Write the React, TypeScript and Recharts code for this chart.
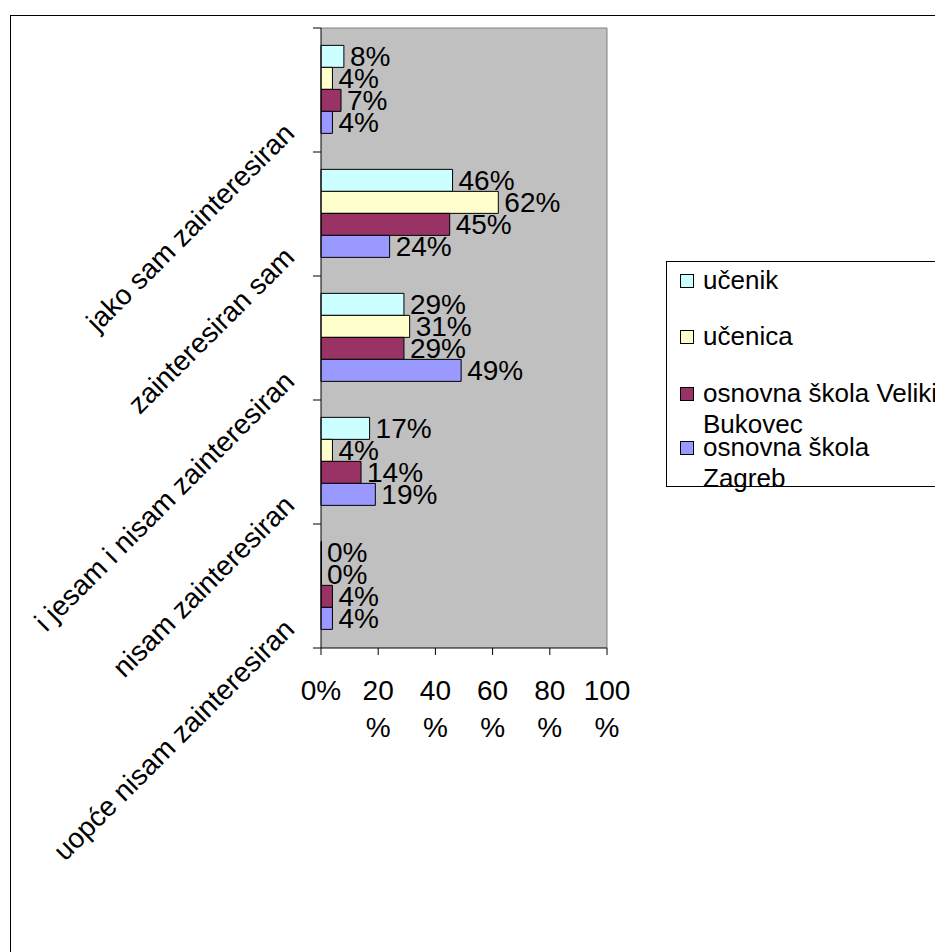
/* ── Interest survey: horizontal grouped bars, Excel look ── */

import { BarChart, Bar, XAxis, YAxis, CartesianGrid, ReferenceLine, LabelList } from "recharts";

const categories = [
  "jako sam zainteresiran",
  "zainteresiran sam",
  "i jesam i nisam zainteresiran",
  "nisam zainteresiran",
  "uopće nisam zainteresiran",
];

const ucenik = [8, 46, 29, 17, 0];
const ucenica = [4, 62, 31, 4, 0];
const velikiBukovec = [7, 45, 29, 14, 4];
const zagreb = [4, 24, 49, 19, 4];

const xTicks = [0, 20, 40, 60, 80, 100];
const xTickLabels = ["0%", "20 %", "40 %", "60 %", "80 %", "100 %"];

const series = [
  { key: "ucenik", name: "učenik", color: "#CCFFFF", values: ucenik },
  { key: "ucenica", name: "učenica", color: "#FFFFCC", values: ucenica },
  { key: "veliki", name: "osnovna škola Veliki Bukovec", color: "#993366", values: velikiBukovec },
  { key: "zagreb", name: "osnovna škola Zagreb", color: "#9999FF", values: zagreb },
];

const FONT = "'Liberation Sans', Arial, sans-serif";
const W = 935;
const H = 952;
const PLOT_LEFT = 321;
const PLOT_RIGHT = 607;
const PLOT_TOP = 28;
const PLOT_BOTTOM = 648;
const Y_AXIS_W = 60;
const X_AXIS_H = 100;

const data = categories.map((cat, i) => {
  const row: Record<string, any> = { cat };
  for (const s of series) row[s.key] = s.values[i];
  return row;
});

function CatTick({ y, payload, index }: any) {
  const half = (PLOT_BOTTOM - PLOT_TOP) / categories.length / 2;
  return (
    <g>
      <line x1={PLOT_LEFT - 8} x2={PLOT_LEFT} y1={y - half} y2={y - half} stroke="#000" />
      {index === categories.length - 1 && (
        <line x1={PLOT_LEFT - 8} x2={PLOT_LEFT} y1={y + half} y2={y + half} stroke="#000" />
      )}
      <text
        transform={`translate(${PLOT_LEFT - 25},${y + 45}) rotate(-45)`}
        textAnchor="end"
        fontSize={28}
        fontFamily={FONT}
        fill="#000"
      >
        {payload.value}
      </text>
    </g>
  );
}

function PctTick({ x, index }: any) {
  const lines = xTickLabels[index].split(" ");
  return (
    <text textAnchor="middle" fontSize={28} fontFamily={FONT} fill="#000">
      {lines.map((t, i) => (
        <tspan key={i} x={x} y={PLOT_BOTTOM + 52 + i * 37}>
          {t}
        </tspan>
      ))}
    </text>
  );
}

// value label to the right of each bar
function ValueLabel({ x, y, width, height, value }: any) {
  const w = Number(width) < 1 ? 0 : Number(width);
  return (
    <text
      x={Number(x) + w + 6}
      y={Number(y) + Number(height) / 2}
      dominantBaseline="central"
      fontSize={28}
      fontFamily={FONT}
      fill="#000"
    >
      {`${value}%`}
    </text>
  );
}

export default function App() {
  return (
    <div style={{ position: "absolute", left: 0, top: 0, width: W, height: H, overflow: "hidden", background: "#fff" }}>
      {/* outer chart frame, cut off at right and bottom */}
      <div style={{ position: "absolute", left: 10, top: 15, width: 1000, height: 1000, border: "1px solid #000" }} />

      <div style={{ position: "absolute", left: 0, top: 0 }}>
        <BarChart
          width={W}
          height={H}
          data={data}
          layout="vertical"
          margin={{
            top: PLOT_TOP,
            left: PLOT_LEFT - Y_AXIS_W,
            right: W - PLOT_RIGHT,
            bottom: H - PLOT_BOTTOM - X_AXIS_H,
          }}
          barCategoryGap="14%"
          barGap={0}
        >
          <CartesianGrid fill="#C0C0C0" horizontal={false} vertical={false} />
          <XAxis
            type="number"
            domain={[0, 100]}
            ticks={xTicks}
            interval={0}
            height={X_AXIS_H}
            tickSize={7}
            tickLine={{ stroke: "#000" }}
            axisLine={{ stroke: "#000" }}
            tick={<PctTick />}
          />
          <YAxis
            type="category"
            dataKey="cat"
            width={Y_AXIS_W}
            interval={0}
            tickLine={false}
            axisLine={{ stroke: "#000" }}
            tick={<CatTick />}
          />
          <ReferenceLine x={100} stroke="#808080" />
          <ReferenceLine y={categories[0]} position="start" stroke="#808080" />
          {series.map((s) => (
            <Bar
              key={s.key}
              dataKey={s.key}
              name={s.name}
              fill={s.color}
              stroke="#000"
              strokeWidth={1}
              minPointSize={0.5}
              isAnimationActive={false}
            >
              <LabelList dataKey={s.key} content={<ValueLabel />} />
            </Bar>
          ))}
        </BarChart>
      </div>

      {/* Legend */}
      <div
        style={{
          position: "absolute",
          left: 666,
          top: 261,
          width: 320,
          height: 224,
          border: "1px solid #000",
          background: "#fff",
          fontFamily: FONT,
          fontSize: 26,
          color: "#000",
        }}
      >
        {series.map((s, i) => (
          <div key={s.key} style={{ position: "absolute", left: 13, top: [3, 59, 116, 170][i], display: "flex", alignItems: "flex-start" }}>
            <div style={{ width: 12, height: 12, marginTop: 9, border: "1px solid #000", background: s.color, flexShrink: 0 }} />
            <div style={{ marginLeft: 9, width: 245, lineHeight: "31px" }}>{s.name}</div>
          </div>
        ))}
      </div>
    </div>
  );
}
